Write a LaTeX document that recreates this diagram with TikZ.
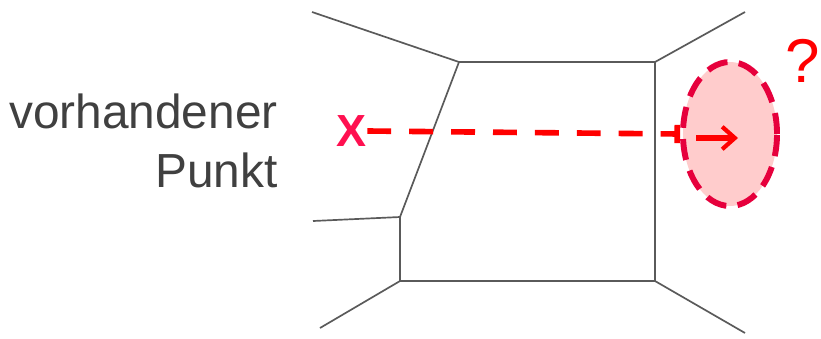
\documentclass[tikz,border=0pt]{standalone}
\usepackage{fontspec}
\setmainfont{Liberation Sans}
\usetikzlibrary{shapes.geometric, arrows.meta, positioning}

\definecolor{wallgray}{HTML}{5A5A5A}
\definecolor{textgray}{HTML}{404040}
\definecolor{signalred}{HTML}{FF0000}
\definecolor{crossred}{HTML}{FF1050}
\definecolor{rimred}{HTML}{E6003C}
\definecolor{zonefill}{HTML}{FFCCCC}

\begin{document}
\begin{tikzpicture}[
        x=0.025cm, y=-0.025cm,
        wall/.style={draw=wallgray, line width=1.2pt},
        labeltext/.style={inner sep=0pt, text=textgray, font=\fontsize{34}{42}\selectfont},
        zone/.style={ellipse, draw=rimred, fill=zonefill, line width=4.2pt, dash pattern=on 15pt off 8pt, minimum width=2.35cm, minimum height=3.6cm, inner sep=0pt},
        search/.style={draw=signalred, line width=4pt, dash pattern=on 17pt off 12.8pt, -{Bar[width=13pt]}},
        pointer/.style={draw=signalred, line width=4pt, -{Straight Barb[length=9pt, width=16pt, line width=3pt]}}
    ]
    \useasboundingbox (0,0) rectangle (821,338);

    % cell corners
    \coordinate (tl) at (459,62);
    \coordinate (tr) at (655,62);
    \coordinate (br) at (655,281);
    \coordinate (bl) at (400,281);
    \coordinate (ml) at (400,217);
    % neighbouring edges
    \coordinate (otl) at (312,12);
    \coordinate (otr) at (745,12);
    \coordinate (oml) at (313,221);
    \coordinate (obl) at (320,328);
    \coordinate (obr) at (745,333);

    \draw[wall] (tl) -- (tr) -- (br) -- (bl) -- (ml) -- cycle;
    \draw[wall] (tl) -- (otl);
    \draw[wall] (tr) -- (otr);
    \draw[wall] (ml) -- (oml);
    \draw[wall] (bl) -- (obl);
    \draw[wall] (br) -- (obr);

    \node[labeltext, anchor=base east] (vorh) at (278,128) {vorhandener};
    \node[labeltext, anchor=base east] (punkt) at ([yshift=-1.475cm]vorh.base east) {Punkt};

    \node[inner sep=0pt, text=crossred, font=\fontsize{32}{40}\selectfont\bfseries] (kreuz) at (352,131) {X};
    \node[zone] (ziel) at (730,134) {};
    \node[inner sep=0pt, text=signalred, font=\fontsize{44}{50}\selectfont] (frage) at (803,61) {?};

    \draw[search] (kreuz.east) -- (ziel.west);
    \draw[pointer] ([xshift=0.4cm, yshift=-0.1cm]ziel.west) -- ([xshift=0.2cm, yshift=-0.1cm]ziel.center);

\end{tikzpicture}
\end{document}
